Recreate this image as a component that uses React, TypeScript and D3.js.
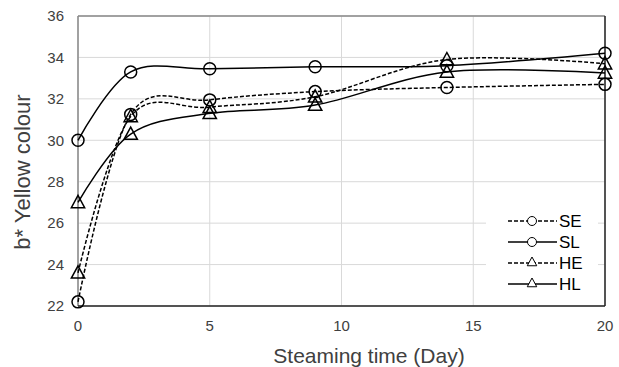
import * as d3 from "d3";
import React, { useEffect, useRef } from "react";

const days = [0, 2, 5, 9, 14, 20];
const seValues = [22.2, 31.25, 31.95, 32.35, 32.55, 32.7];
const slValues = [30.0, 33.3, 33.45, 33.55, 33.6, 34.2];
const heValues = [23.6, 31.15, 31.6, 32.1, 33.9, 33.7];
const hlValues = [27.0, 30.3, 31.3, 31.7, 33.3, 33.25];
const seriesNames = ["SE", "SL", "HE", "HL"];
const xTicks = [0, 5, 10, 15, 20];
const yTicks = [22, 24, 26, 28, 30, 32, 34, 36];

const App: React.FC = () => {
  const ref = useRef<SVGSVGElement>(null);

  useEffect(() => {
    const width = 619;
    const height = 367;
    const left = 78,
      right = 605,
      top = 16,
      bottom = 306;

    const svg = d3.select(ref.current);
    svg.selectAll("*").remove();

    const x = d3.scaleLinear().domain([0, 20]).range([left, right]);
    const y = d3.scaleLinear().domain([22, 36]).range([bottom, top]);

    svg.append("rect").attr("width", width).attr("height", height).attr("fill", "#fff");

    // grid
    svg
      .selectAll(".hgrid")
      .data(yTicks)
      .enter()
      .append("line")
      .attr("x1", left)
      .attr("x2", right)
      .attr("y1", (d) => y(d))
      .attr("y2", (d) => y(d))
      .attr("stroke", "#d9d9d9")
      .attr("stroke-width", 1);
    svg
      .selectAll(".vgrid")
      .data(xTicks)
      .enter()
      .append("line")
      .attr("x1", (d) => x(d))
      .attr("x2", (d) => x(d))
      .attr("y1", top)
      .attr("y2", bottom)
      .attr("stroke", "#d9d9d9")
      .attr("stroke-width", 1);

    // frame
    svg.append("line").attr("x1", left).attr("x2", right).attr("y1", top).attr("y2", top).attr("stroke", "#888").attr("stroke-width", 1.5);
    svg.append("line").attr("x1", left).attr("x2", left).attr("y1", top).attr("y2", bottom).attr("stroke", "#888").attr("stroke-width", 1.5);
    svg.append("line").attr("x1", right).attr("x2", right).attr("y1", top).attr("y2", bottom).attr("stroke", "#222").attr("stroke-width", 1.5);
    svg.append("line").attr("x1", left).attr("x2", right).attr("y1", bottom).attr("y2", bottom).attr("stroke", "#222").attr("stroke-width", 1.5);

    const font = "Liberation Sans, Arial, sans-serif";

    svg
      .selectAll(".ylab")
      .data(yTicks)
      .enter()
      .append("text")
      .attr("x", 64)
      .attr("y", (d) => y(d))
      .attr("dy", "0.35em")
      .attr("text-anchor", "end")
      .attr("font-family", font)
      .attr("font-size", 15)
      .attr("fill", "#404040")
      .text((d) => d);

    svg
      .selectAll(".xlab")
      .data(xTicks)
      .enter()
      .append("text")
      .attr("x", (d) => x(d))
      .attr("y", 331)
      .attr("text-anchor", "middle")
      .attr("font-family", font)
      .attr("font-size", 15)
      .attr("fill", "#404040")
      .text((d) => d);

    svg
      .append("text")
      .attr("x", 369)
      .attr("y", 363)
      .attr("text-anchor", "middle")
      .attr("font-family", font)
      .attr("font-size", 21)
      .attr("fill", "#404040")
      .text("Steaming time (Day)");

    svg
      .append("text")
      .attr("transform", `translate(30,172) rotate(-90)`)
      .attr("text-anchor", "middle")
      .attr("font-family", font)
      .attr("font-size", 22)
      .attr("fill", "#404040")
      .text("b* Yellow colour");

    const series = [
      { name: seriesNames[0], values: seValues, dashed: true, marker: "circle" },
      { name: seriesNames[1], values: slValues, dashed: false, marker: "circle" },
      { name: seriesNames[2], values: heValues, dashed: true, marker: "triangle" },
      { name: seriesNames[3], values: hlValues, dashed: false, marker: "triangle" },
    ];

    const line = d3
      .line<number>()
      .x((_, i) => x(days[i]))
      .y((d) => y(d))
      .curve(d3.curveCatmullRom.alpha(0));

    const triangle = (cx: number, cy: number, s: number) =>
      `M${cx},${cy - s}L${cx + s * 0.95},${cy + s * 0.75}L${cx - s * 0.95},${cy + s * 0.75}Z`;

    const drawMarker = (
      g: d3.Selection<SVGGElement, unknown, null, undefined>,
      kind: string,
      cx: number,
      cy: number,
      s: number,
    ) => {
      if (kind === "circle") {
        g.append("circle").attr("cx", cx).attr("cy", cy).attr("r", s).attr("fill", "none").attr("stroke", "#000").attr("stroke-width", 1.5);
      } else {
        g.append("path").attr("d", triangle(cx, cy, s)).attr("fill", "none").attr("stroke", "#000").attr("stroke-width", 1.5);
      }
    };

    series.forEach((s) => {
      svg
        .append("path")
        .attr("d", line(s.values))
        .attr("fill", "none")
        .attr("stroke", "#000")
        .attr("stroke-width", 1.5)
        .attr("stroke-dasharray", s.dashed ? "4,2" : null);
    });
    series.forEach((s) => {
      const g = svg.append("g");
      s.values.forEach((v, i) => drawMarker(g, s.marker, x(days[i]), y(v), s.marker === "circle" ? 6 : 7));
    });

    // legend
    const lg = svg.append("g");
    lg.append("rect").attr("x", 486).attr("y", 208).attr("width", 112).attr("height", 88).attr("fill", "#fff");
    const legendY = [221, 242, 263, 284];
    series.forEach((s, i) => {
      const ly = legendY[i];
      lg.append("line")
        .attr("x1", 508)
        .attr("x2", 557)
        .attr("y1", ly)
        .attr("y2", ly)
        .attr("stroke", "#000")
        .attr("stroke-width", 1.5)
        .attr("stroke-dasharray", s.dashed ? "4,2" : null);
      const mg = lg.append("g");
      if (s.marker === "circle") {
        mg.append("circle").attr("cx", 532).attr("cy", ly).attr("r", 4.5).attr("fill", "#fff").attr("stroke", "#000").attr("stroke-width", 1);
      } else {
        mg.append("path").attr("d", triangle(532, ly - 1, 5)).attr("fill", "#fff").attr("stroke", "#000").attr("stroke-width", 1);
      }
      lg.append("text")
        .attr("x", 559)
        .attr("y", ly)
        .attr("dy", "0.36em")
        .attr("font-family", font)
        .attr("font-size", 17)
        .attr("fill", "#000")
        .text(s.name);
    });
  }, []);

  return (
    <svg
      ref={ref}
      width={619}
      height={367}
      style={{ position: "absolute", left: 0, top: 0, display: "block" }}
    />
  );
};

export default App;
